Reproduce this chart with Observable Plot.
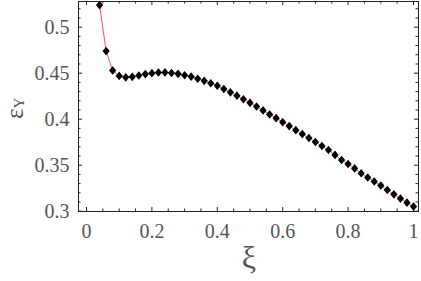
<!DOCTYPE html>
<html><head><meta charset="utf-8">
<script src="https://cdn.jsdelivr.net/npm/d3@7"></script>
<script src="https://cdn.jsdelivr.net/npm/@observablehq/plot@0.6"></script>
<style>
html,body{margin:0;padding:0;background:#fff}
#chart svg{display:block}
</style>
</head><body><div id="chart"></div>
<script>
const xiValues = [0.04,0.06,0.08,0.10,0.12,0.14,0.16,0.18,0.20,0.22,0.24,0.26,0.28,0.30,0.32,0.34,0.36,0.38,0.40,0.42,0.44,0.46,0.48,0.50,0.52,0.54,0.56,0.58,0.60,0.62,0.64,0.66,0.68,0.70,0.72,0.74,0.76,0.78,0.80,0.82,0.84,0.86,0.88,0.90,0.92,0.94,0.96,0.98,1.00];
const epsYValues = [0.524,0.474,0.453,0.447,0.4455,0.446,0.4475,0.449,0.4500,0.4507,0.4508,0.4502,0.4493,0.4478,0.4463,0.4440,0.4417,0.4391,0.4363,0.4328,0.4292,0.4256,0.4217,0.4178,0.4138,0.4095,0.4052,0.4011,0.3968,0.3925,0.3881,0.3838,0.3795,0.3752,0.3709,0.3665,0.3612,0.3556,0.3513,0.3465,0.3413,0.3366,0.3323,0.3278,0.3230,0.3183,0.3137,0.3093,0.3051];
const xTicks = [0,0.2,0.4,0.6,0.8,1];
const xTickLabels = ["0","0.2","0.4","0.6","0.8","1"];
const yTicks = [0.3,0.35,0.4,0.45,0.5];
const yTickLabels = ["0.3","0.35","0.4","0.45","0.5"];
const xMinor = d3.range(0, 1.0001, 0.05).map(v => +v.toFixed(2)).filter(v => !xTicks.some(t => Math.abs(t - v) < 1e-9));
const yMinor = d3.range(0.30, 0.5201, 0.01).map(v => +v.toFixed(2)).filter(v => !yTicks.some(t => Math.abs(t - v) < 1e-9));

const data = xiValues.map((x, i) => ({x, y: epsYValues[i]}));

const W = 421, H = 281;
const mL = 78, mR = 3, mT = 1, mB = 70;
const innerW = W - mL - mR, innerH = H - mT - mB;
const frameColor = "#222";
const textColor = "#555";
const majorLen = 4, minorLen = 2.5;
const serif = "'Liberation Serif', 'DejaVu Serif', serif";

const diamond = {
  draw(ctx, size) {
    const r = Math.sqrt(size / Math.PI);
    const hw = r, hh = r * 1.2;
    ctx.moveTo(0, -hh); ctx.lineTo(hw, 0); ctx.lineTo(0, hh); ctx.lineTo(-hw, 0); ctx.closePath();
  }
};

const chart = Plot.plot({
  width: W, height: H,
  marginLeft: mL, marginRight: mR, marginTop: mT, marginBottom: mB,
  x: {domain: [-0.02446, 1.01529], axis: null},
  y: {domain: [0.29967, 0.5279], axis: null},
  marks: [
    Plot.frame({stroke: frameColor, strokeWidth: 1}),
    Plot.ruleX(xTicks, {x: d => d, insetTop: innerH - majorLen, stroke: frameColor}),
    Plot.ruleX(xMinor, {x: d => d, insetTop: innerH - minorLen, stroke: frameColor}),
    Plot.ruleX(xTicks, {x: d => d, insetBottom: innerH - majorLen, stroke: frameColor}),
    Plot.ruleX(xMinor, {x: d => d, insetBottom: innerH - minorLen, stroke: frameColor}),
    Plot.ruleY(yTicks, {y: d => d, insetRight: innerW - majorLen, stroke: frameColor}),
    Plot.ruleY(yMinor, {y: d => d, insetRight: innerW - minorLen, stroke: frameColor}),
    Plot.ruleY(yTicks, {y: d => d, insetLeft: innerW - majorLen, stroke: frameColor}),
    Plot.ruleY(yMinor, {y: d => d, insetLeft: innerW - minorLen, stroke: frameColor}),
    Plot.axisX({ticks: xTicks, tickSize: 0, tickPadding: 12, fontSize: 20, fill: textColor,
      tickFormat: d => xTickLabels[xTicks.indexOf(d)], label: null}),
    Plot.axisY({ticks: yTicks, tickSize: 0, tickPadding: 9, fontSize: 20, fill: textColor,
      tickFormat: d => yTickLabels[yTicks.indexOf(d)], label: null}),
    Plot.line(data, {x: "x", y: "y", stroke: "#ff2020", strokeWidth: 0.8}),
    Plot.dot(data, {x: "x", y: "y", symbol: diamond, r: 3.6, fill: "#000", stroke: "none"})
  ]
});

document.getElementById("chart").appendChild(chart);

const svg = d3.select(chart);
svg.append("text")
  .attr("x", 249).attr("y", 268)
  .attr("text-anchor", "middle")
  .attr("font-size", 32)
  .attr("fill", textColor)
  .text("ξ");
const yl = svg.append("text")
  .attr("transform", "translate(23,119) rotate(-90)")
  .attr("text-anchor", "start")
  .attr("fill", textColor);
yl.append("tspan").attr("font-size", 25).text("ε");
yl.append("tspan").attr("font-size", 15).attr("dy", 1).text("Y");

svg.attr("font-family", serif);
chart.style.setProperty("font-family", serif, "important");
svg.selectAll("g").attr("font-family", null);
svg.selectAll("text, tspan").each(function() {
  this.setAttribute("font-family", serif);
  this.style.setProperty("font-family", serif, "important");
});
</script>
</body></html>
